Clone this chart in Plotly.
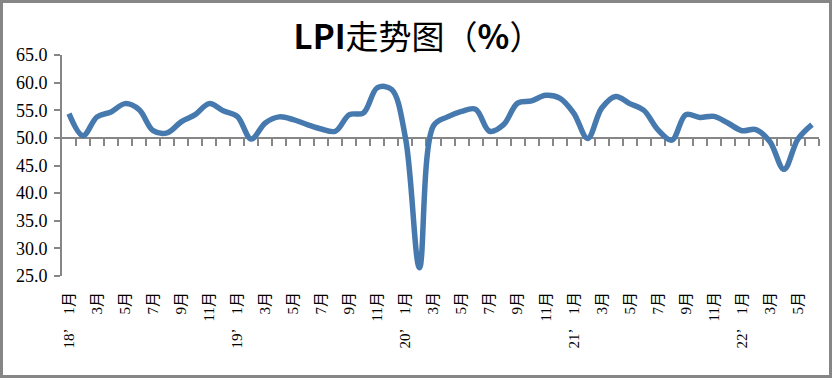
import plotly.graph_objects as go

# ---- data ----
years = ["18", "19", "20", "21", "22"]
months = list(range(1, 13))
lpi_2018 = [54.4, 50.4, 53.8, 54.7, 56.2, 55.1, 51.3, 50.9, 52.9, 54.2, 56.2, 54.9]
lpi_2019 = [53.9, 49.8, 52.7, 53.8, 53.3, 52.4, 51.6, 51.2, 54.2, 54.5, 59.1, 58.8]
lpi_2020 = [50.0, 26.5, 52.2, 53.8, 54.8, 55.2, 51.2, 52.4, 56.3, 56.7, 57.7, 57.2]
lpi_2021 = [54.5, 49.9, 55.4, 57.5, 56.2, 55.0, 51.5, 49.6, 54.2, 53.7, 53.9, 52.7]
lpi_2022 = [51.3, 51.5, 49.3, 44.3, 49.8, 52.4]

values = lpi_2018 + lpi_2019 + lpi_2020 + lpi_2021 + lpi_2022
categories = []
for y in years:
    for m in months:
        categories.append(f"{y}-{m}")
categories = categories[:len(values)]

y_ticks = [25, 30, 35, 40, 45, 50, 55, 60, 65]

idx = list(range(len(values)))
label_idx = [i for i in idx if i % 2 == 0]
label_text = []
for i in label_idx:
    yy, mm = categories[i].split("-")
    if mm == "1":
        label_text.append(f"{yy}’    1月")
    else:
        label_text.append(f"{mm}月")
boundaries = [i + 0.5 for i in idx]

LINE = "#4679AE"
GRAY = "#868686"

fig = go.Figure()
fig.add_trace(go.Scatter(
    x=idx, y=values, mode="lines",
    line=dict(color=LINE, width=5.5, shape="spline", smoothing=1.0),
    hoverinfo="skip", showlegend=False,
))
# invisible copy registering the overlay axis (used for the 50-line with ticks)
fig.add_trace(go.Scatter(
    x=idx, y=values, mode="lines", xaxis="x2", opacity=0,
    line=dict(width=0), hoverinfo="skip", showlegend=False,
))

W, H = 832, 378
L, R, T, B = 62, 13, 55, 102
pw, ph = W - L - R, H - T - B

fig.update_layout(
    width=W, height=H,
    margin=dict(l=L, r=R, t=T, b=B),
    paper_bgcolor="white", plot_bgcolor="white",
    title=dict(
        text="<b>LPI</b>走势图（<b>%</b>）",
        x=418 / W, xanchor="center", xref="container",
        y=1 - 37 / H, yanchor="middle", yref="container",
        font=dict(family="Noto Sans CJK SC", size=33, color="black"),
    ),
    xaxis=dict(
        range=[-0.5, len(values) - 0.5],
        tickmode="array", tickvals=label_idx, ticktext=label_text,
        tickangle=-90, ticks="", showline=False, showgrid=False, zeroline=False,
        ticklabelstandoff=12,
        tickfont=dict(family="Liberation Serif, Noto Sans CJK SC", size=15, color="black"),
    ),
    xaxis2=dict(
        overlaying="x", anchor="free", position=(50 - 25) / (65 - 25),
        range=[-0.5, len(values) - 0.5],
        tickmode="array", tickvals=boundaries, showticklabels=False,
        ticks="outside", ticklen=7, tickwidth=2, tickcolor=GRAY,
        showline=True, linecolor=GRAY, linewidth=2,
        showgrid=False, zeroline=False, layer="below traces",
    ),
    yaxis=dict(
        range=[25, 65], tickmode="array", tickvals=y_ticks,
        tickformat=".1f",
        ticks="outside", ticklen=6, tickwidth=2, tickcolor=GRAY,
        ticklabelstandoff=3,
        showline=True, linecolor=GRAY, linewidth=2,
        showgrid=False, zeroline=False,
        tickfont=dict(family="Liberation Serif, DejaVu Serif", size=18, color="black"),
    ),
    shapes=[dict(
        type="rect", xref="paper", yref="paper",
        x0=(1.5 - L) / pw, x1=(W - 1.5 - L) / pw,
        y0=(T + ph - (H - 1.5)) / ph, y1=(T + ph - 1.5) / ph,
        line=dict(color=GRAY, width=3), fillcolor="rgba(0,0,0,0)", layer="above",
    )],
)

fig.write_html("out.html", config={"displayModeBar": False},
               post_script="document.body.style.margin='0';")
